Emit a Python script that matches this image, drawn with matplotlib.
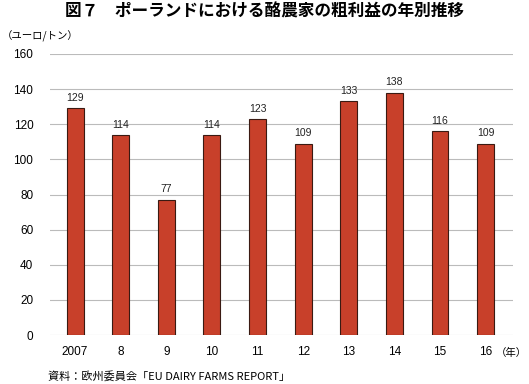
import matplotlib
matplotlib.use('Agg')
from matplotlib import pyplot as plt

plt.rcParams['font.family'] = ['Noto Sans CJK JP', 'DejaVu Sans']
num_font = ['Liberation Sans', 'DejaVu Sans']

years = ['2007', '8', '9', '10', '11', '12', '13', '14', '15', '16']
values = [129, 114, 77, 114, 123, 109, 133, 138, 116, 109]

fig = plt.figure(figsize=(5.29, 3.84), dpi=100)
ax = fig.add_axes([50 / 529, 1 - 335 / 384, 463 / 529, 281 / 384])

x = list(range(len(years)))
ax.bar(x, values, width=0.37, color='#c8402a', edgecolor='#3a1a12', linewidth=0.8, zorder=3)
for xi, v in zip(x, values):
    ax.text(xi, v + 3, str(v), ha='center', va='bottom', fontsize=7.5, color='#222222', family=num_font)

ax.set_ylim(0, 160)
ax.set_xlim(-0.55, 9.6)
ax.set_yticks(range(0, 161, 20))
ax.set_xticks(x)
ax.set_xticklabels(years, fontsize=8.5, family=num_font)
for lab in ax.get_yticklabels():
    lab.set_family(num_font)
ax.tick_params(axis='y', labelsize=8.5, length=0, pad=12)
ax.tick_params(axis='x', length=0, pad=8)
ax.grid(axis='y', color='#bbbbbb', linewidth=0.8, zorder=0)
for s in ax.spines.values():
    s.set_visible(False)

fig.text(0.5, 1 - 12 / 384, '図７　ポーランドにおける酪農家の粗利益の年別推移', ha='center', va='center',
         fontsize=12, fontweight='bold')
fig.text(2 / 529, 1 - 36 / 384, '（ユーロ/トン）', ha='left', va='center', fontsize=7.5)
fig.text(527 / 529, 1 - 353 / 384, '（年）', ha='right', va='center', fontsize=7.5)
fig.text(48 / 529, 1 - 376 / 384, '資料：欧州委員会「EU DAIRY FARMS REPORT」', ha='left', va='center', fontsize=8)

plt.savefig('out.png', dpi=100)
